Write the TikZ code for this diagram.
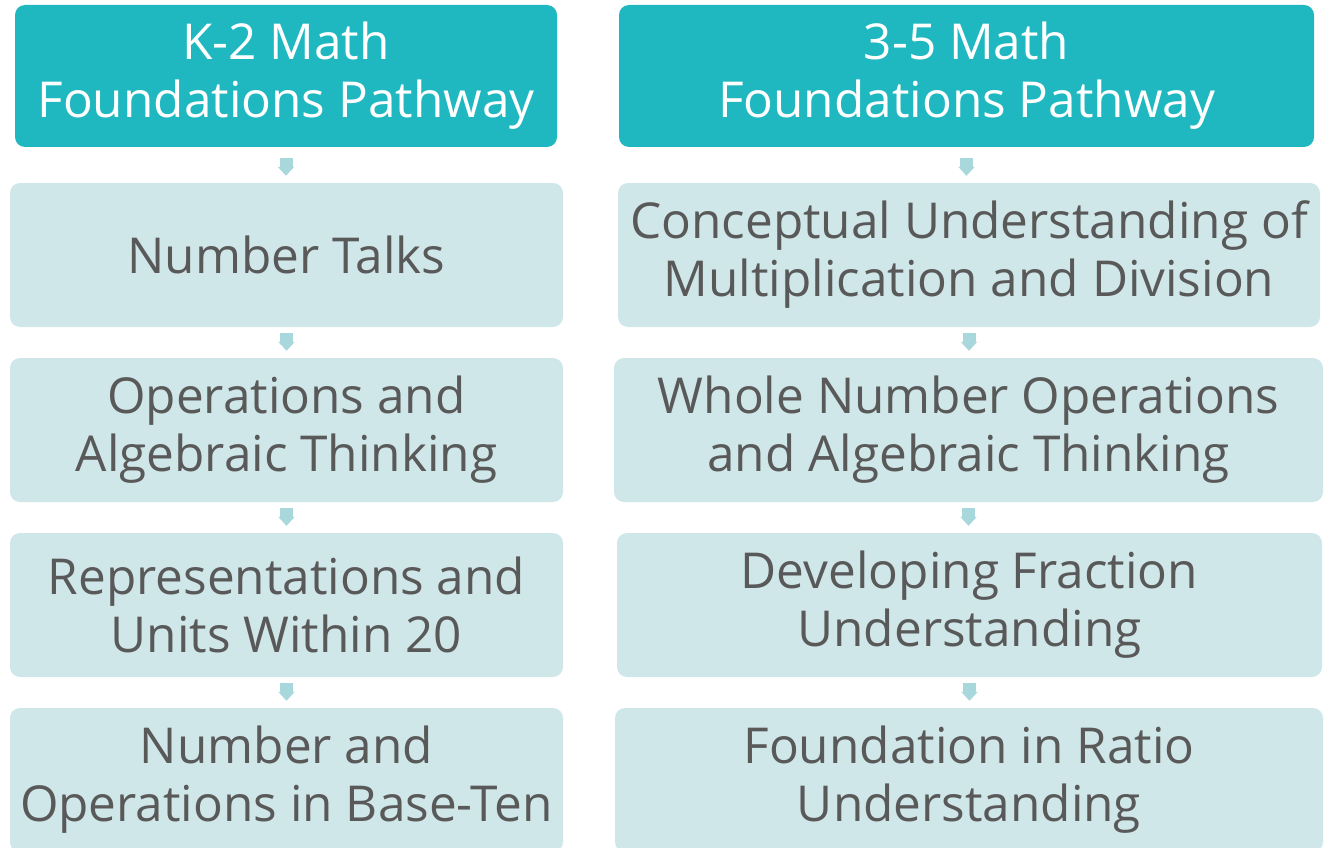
\documentclass[tikz,border=0pt]{standalone}
\usepackage{fontspec}
\setmainfont{Open Sans}
\usetikzlibrary{arrows.meta}
\definecolor{headteal}{HTML}{20B8C0}
\definecolor{boxpale}{HTML}{D0E7EA}
\definecolor{arrowpale}{HTML}{A8D8DC}
\definecolor{textgray}{HTML}{595959}

\begin{document}
\begin{tikzpicture}[x=1pt,y=-1pt,
    header/.style={fill=headteal, text=white, rounded corners=10pt, align=center,
        inner sep=0pt, minimum height=142pt, font=\fontsize{49.5}{58}\selectfont},
    topic/.style={fill=boxpale, text=textgray, rounded corners=10pt, align=center,
        inner sep=0pt, minimum height=144pt, font=\fontsize{49.5}{58}\selectfont},
    flow/.style={arrowpale, line width=13pt, -{Triangle[width=16pt,length=9pt]},
        shorten <=6pt, shorten >=7pt}]
    \clip (0,0) rectangle (1325,848);
    % K-2 column
    \node[header, minimum width=542pt] (kTwoHead) at (286,76) {K-2 Math\\Foundations Pathway};
    \node[topic, minimum width=553pt] (kTwoA) at (286.5,255) {Number Talks};
    \node[topic, minimum width=553pt] (kTwoB) at (286.5,430) {Operations and\\Algebraic Thinking};
    \node[topic, minimum width=553pt] (kTwoC) at (286.5,605) {Representations and\\Units Within 20};
    \node[topic, minimum width=553pt] (kTwoD) at (286.5,780) {Number and\\Operations in Base-Ten};
    % 3-5 column
    \node[header, minimum width=695pt] (tfHead) at (966.5,76) {3-5 Math\\Foundations Pathway};
    \node[topic, minimum width=702pt] (tfA) at (969,255) {Conceptual Understanding of\\Multiplication and Division};
    \node[topic, minimum width=709pt] (tfB) at (968.5,430) {Whole Number Operations\\and Algebraic Thinking};
    \node[topic, minimum width=705pt] (tfC) at (969.5,605) {Developing Fraction\\Understanding};
    \node[topic, minimum width=708pt] (tfD) at (969,780) {Foundation in Ratio\\Understanding};
    % arrows
    \draw[flow, shorten <=11pt] (kTwoHead.south) -- (kTwoHead.south |- kTwoA.north);
    \draw[flow, shorten <=11pt] (tfHead.south) -- (tfHead.south |- tfA.north);
    \foreach \a/\b in {kTwoA/kTwoB,kTwoB/kTwoC,kTwoC/kTwoD,tfA/tfB,tfB/tfC,tfC/tfD}
        \draw[flow] (\a.south) -- (\a.south |- \b.north);
\end{tikzpicture}
\end{document}
